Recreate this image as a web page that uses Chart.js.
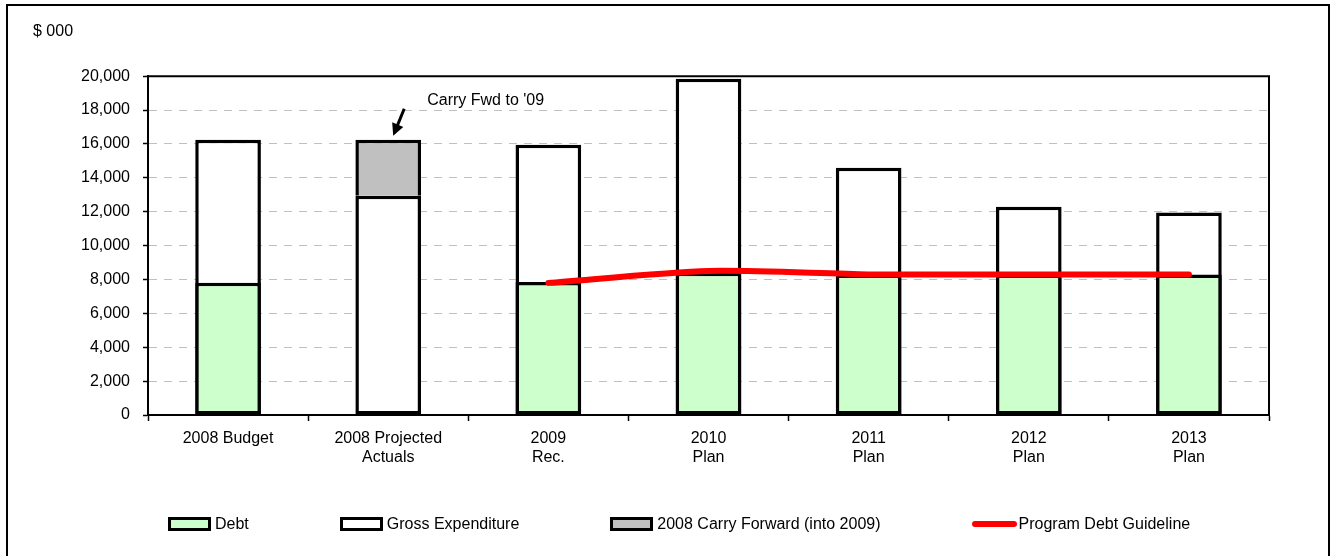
<!DOCTYPE html>
<html>
<head>
<meta charset="utf-8">
<script src="https://cdn.jsdelivr.net/npm/chart.js@4.4.1/dist/chart.umd.min.js"></script>
<style>
    body { margin: 0; background: #fff; overflow: hidden; font-family: 'Liberation Sans', Arial, sans-serif; }
    #wrap { position: relative; width: 1330px; height: 556px; }
    #frame { position: absolute; left: 6px; top: 4px; width: 1324px; height: 600px; border: 2px solid #000; box-sizing: border-box; }
    #chart { position: absolute; left: 0; top: 0; }
    .chart-legend { position: absolute; left: 168px; top: 515px; display: flex; gap: 91px; }
    .chart-legend-item { display: flex; align-items: center; font-size: 16px; line-height: 18px; color: #000; }
    .legend-box { width: 43px; height: 14px; border: 3px solid #000; box-sizing: border-box; margin-right: 4px; }
    .legend-line { width: 45px; height: 6px; border-radius: 3px; margin-right: 2px; }
</style>
</head>
<body>
<div id="wrap">
    <div id="frame"></div>
    <canvas id="chart" width="1330" height="556"></canvas>
    <div class="chart-legend"></div>
</div>
<script>
// Chart data ($ 000)
const categories = ['2008 Budget', ['2008 Projected', 'Actuals'], ['2009', 'Rec.'], ['2010', 'Plan'], ['2011', 'Plan'], ['2012', 'Plan'], ['2013', 'Plan']];
const debt = [7800, null, 7850, 8400, 8300, 8300, 8300];
const grossExpenditure = [16250, 12950, 15950, 19850, 14600, 12300, 11950];
const carryForward = [null, 3300, null, null, null, null, null];
const debtGuideline = [null, null, 7800, 8500, 8300, 8300, 8300];

const yTicksMin = 0;
const yTicksMax = 20000;
const yTicksStep = 2000;

Chart.defaults.font.family = "'Liberation Sans', Arial, sans-serif";
Chart.defaults.font.size = 16;
Chart.defaults.color = '#000';

// carry forward sits on top of the projected actuals bar
const carryRanges = carryForward.map((v, i) => v === null ? null : [grossExpenditure[i], grossExpenditure[i] + v]);

// outline of the plot area
const plotBox = {
    id: 'plotBox',
    afterDraw(chart) {
        const { ctx, chartArea } = chart;
        ctx.save();
        ctx.strokeStyle = '#000';
        ctx.lineWidth = 2;
        ctx.beginPath();
        ctx.moveTo(chartArea.left, chartArea.top);
        ctx.lineTo(chartArea.right, chartArea.top);
        ctx.lineTo(chartArea.right, chartArea.bottom);
        ctx.stroke();
        ctx.restore();
    }
};

// "Carry Fwd to '09" note with arrow, pinned to the carry forward bar
const carryNote = {
    id: 'carryNote',
    afterDraw(chart) {
        const bar = chart.getDatasetMeta(2).data[1];
        if (!bar) return;
        const ctx = chart.ctx;
        const x = bar.x, y = bar.y;
        ctx.save();
        ctx.strokeStyle = '#000';
        ctx.fillStyle = '#000';
        ctx.lineWidth = 3;
        const tx = x + 16, ty = y - 31, hx = x + 5, hy = y - 4;
        const ang = Math.atan2(hy - ty, hx - tx);
        ctx.beginPath();
        ctx.moveTo(tx, ty);
        ctx.lineTo(hx - 8 * Math.cos(ang), hy - 8 * Math.sin(ang));
        ctx.stroke();
        ctx.beginPath();
        ctx.moveTo(hx, hy);
        ctx.lineTo(hx - 12 * Math.cos(ang) + 6 * Math.sin(ang), hy - 12 * Math.sin(ang) - 6 * Math.cos(ang));
        ctx.lineTo(hx - 12 * Math.cos(ang) - 6 * Math.sin(ang), hy - 12 * Math.sin(ang) + 6 * Math.cos(ang));
        ctx.closePath();
        ctx.fill();
        ctx.font = "16px 'Liberation Sans', Arial, sans-serif";
        ctx.textAlign = 'left';
        ctx.textBaseline = 'middle';
        ctx.fillText("Carry Fwd to '09", x + 39, y - 39);
        ctx.restore();
    }
};

const chart = new Chart(document.getElementById('chart').getContext('2d'), {
    data: {
        labels: categories,
        datasets: [
            {
                type: 'bar',
                label: 'Debt',
                data: debt,
                backgroundColor: '#CCFFCC',
                borderColor: '#000',
                borderWidth: 3.5,
                borderSkipped: false,
                order: 1,
                legendStyle: 'box'
            },
            {
                type: 'bar',
                label: 'Gross Expenditure',
                data: grossExpenditure,
                backgroundColor: '#FFFFFF',
                borderColor: '#000',
                borderWidth: 3.5,
                borderSkipped: false,
                order: 2,
                legendStyle: 'box'
            },
            {
                type: 'bar',
                label: '2008 Carry Forward (into 2009)',
                data: carryRanges,
                backgroundColor: '#C0C0C0',
                borderColor: '#000',
                borderWidth: 3.5,
                borderSkipped: 'start',
                order: 3,
                legendStyle: 'box'
            },
            {
                type: 'line',
                label: 'Program Debt Guideline',
                data: debtGuideline,
                borderColor: '#FF0000',
                backgroundColor: '#FF0000',
                borderWidth: 6,
                borderCapStyle: 'round',
                borderJoinStyle: 'round',
                pointRadius: 0,
                tension: 0.25,
                order: 0,
                legendStyle: 'line'
            }
        ]
    },
    options: {
        responsive: false,
        animation: false,
        datasets: {
            bar: { grouped: false, barPercentage: 0.41, categoryPercentage: 1 }
        },
        layout: { padding: { left: 33, right: 61, top: 0, bottom: 0 } },
        plugins: {
            legend: { display: false },
            tooltip: { enabled: false },
            title: {
                display: true,
                text: '$ 000',
                align: 'start',
                font: { size: 16, weight: 'normal' },
                padding: { top: 22, bottom: 35 }
            }
        },
        scales: {
            x: {
                offset: true,
                grid: { offset: true, drawOnChartArea: false, drawTicks: true, tickLength: 6, tickColor: '#000', tickWidth: 1.5 },
                border: { color: '#000', width: 2 },
                ticks: { padding: 8, maxRotation: 0, autoSkip: false, font: { size: 16 } },
                afterFit(scale) { scale.height = 141; }
            },
            y: {
                min: yTicksMin,
                max: yTicksMax,
                ticks: { stepSize: yTicksStep, padding: 13, font: { size: 16 } },
                grid: { color: '#C0C0C0', lineWidth: 1, tickLength: 5, tickColor: '#000', tickWidth: 1.5, tickBorderDash: [] },
                border: { color: '#000', width: 2, dash: [8, 7] },
                afterFit(scale) { scale.width = 115; }
            }
        }
    },
    plugins: [plotBox, carryNote]
});

// Build the legend below the chart
function createLegend(chart) {
    const legendContainer = document.querySelector('.chart-legend');
    legendContainer.innerHTML = '';

    chart.data.datasets.forEach(ds => {
        const legendItem = document.createElement('div');
        legendItem.classList.add('chart-legend-item');

        const swatch = document.createElement('div');
        if (ds.legendStyle === 'line') {
            swatch.classList.add('legend-line');
            swatch.style.backgroundColor = ds.borderColor;
        } else {
            swatch.classList.add('legend-box');
            swatch.style.backgroundColor = ds.backgroundColor;
        }

        const labelText = document.createElement('span');
        labelText.textContent = ds.label;

        legendItem.appendChild(swatch);
        legendItem.appendChild(labelText);
        legendContainer.appendChild(legendItem);
    });
}

createLegend(chart);
</script>
</body>
</html>
